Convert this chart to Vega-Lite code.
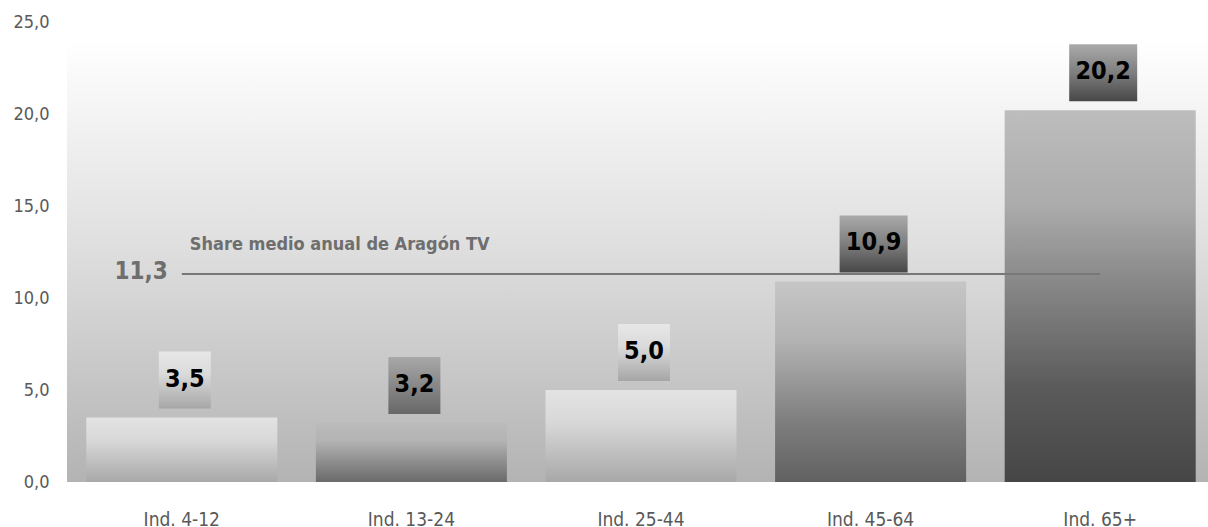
{
  "$schema": "https://vega.github.io/schema/vega-lite/v6.json",
  "width": 1148,
  "height": 460,
  "autosize": {"type": "none"},
  "padding": {"left": 67, "top": 22, "right": 0, "bottom": 45},
  "background": "white",
  "config": {
    "view": {"stroke": null},
    "font": "DejaVu Sans Condensed",
    "locale": {"number": {"decimal": ",", "thousands": ".", "grouping": [3], "currency": ["", " €"]}}
  },
  "datasets": {
    "share": [
      {"group": "Ind. 4-12", "value": 3.5},
      {"group": "Ind. 13-24", "value": 3.2},
      {"group": "Ind. 25-44", "value": 5.0},
      {"group": "Ind. 45-64", "value": 10.9},
      {"group": "Ind. 65+", "value": 20.2}
    ],
    "media": [
      {"value": 11.3, "label": "Share medio anual de Aragón TV"}
    ]
  },
  "layer": [
    {
      "data": {"values": [{}]},
      "mark": {"type": "rect", "fill": {"gradient": "linear", "x1": 0, "y1": 0, "x2": 0, "y2": 1, "stops": [{"offset": 0, "color": "#ffffff"}, {"offset": 0.45, "color": "#e0e0e0"}, {"offset": 1, "color": "#b3b3b3"}]}},
      "encoding": {
        "x": {"value": 0},
        "x2": {"value": "width"},
        "y": {
          "datum": 0, "type": "quantitative",
          "scale": {"domain": [0, 25], "nice": false, "zero": true},
          "axis": {"title": null, "domain": false, "ticks": false, "grid": false, "values": [0, 5, 10, 15, 20, 25], "format": ".1f", "labelPadding": 18, "labelFontSize": 18, "labelColor": "#595959", "labelFont": "DejaVu Sans Condensed"}
        },
        "y2": {"datum": 24}
      }
    },
    {
      "data": {"name": "share"},
      "mark": {"type": "bar"},
      "encoding": {
        "x": {
          "field": "group", "type": "nominal",
          "scale": {"domain": ["Ind. 4-12", "Ind. 13-24", "Ind. 25-44", "Ind. 45-64", "Ind. 65+"], "paddingInner": 0.168, "paddingOuter": 0.084},
          "axis": {"title": null, "domain": false, "ticks": false, "labelAngle": 0, "labelPadding": 28, "labelFontSize": 19, "labelColor": "#595959", "labelFont": "DejaVu Sans Condensed"}
        },
        "y": {
          "field": "value", "type": "quantitative",
          "axis": {"title": null, "domain": false, "ticks": false, "grid": false, "values": [0, 5, 10, 15, 20, 25], "format": ".1f", "labelPadding": 18, "labelFontSize": 18, "labelColor": "#595959", "labelFont": "DejaVu Sans Condensed"}
        },
        "fill": {
          "condition": [
            {"test": "datum.group === 'Ind. 13-24'", "value": {"gradient": "linear", "x1": 0, "y1": 0, "x2": 0, "y2": 1, "stops": [{"offset": 0, "color": "#bbbbbb"}, {"offset": 0.3, "color": "#b3b3b3"}, {"offset": 1, "color": "#6a6a6a"}]}},
            {"test": "datum.group === 'Ind. 45-64'", "value": {"gradient": "linear", "x1": 0, "y1": 0, "x2": 0, "y2": 1, "stops": [{"offset": 0, "color": "#c6c6c6"}, {"offset": 0.3, "color": "#b2b2b2"}, {"offset": 0.7, "color": "#7e7e7e"}, {"offset": 1, "color": "#616161"}]}},
            {"test": "datum.group === 'Ind. 65+'", "value": {"gradient": "linear", "x1": 0, "y1": 0, "x2": 0, "y2": 1, "stops": [{"offset": 0, "color": "#bdbdbd"}, {"offset": 0.25, "color": "#acacac"}, {"offset": 0.45, "color": "#8a8a8a"}, {"offset": 0.75, "color": "#5a5a5a"}, {"offset": 1, "color": "#464646"}]}}
          ],
          "value": {"gradient": "linear", "x1": 0, "y1": 0, "x2": 0, "y2": 1, "stops": [{"offset": 0, "color": "#e3e3e3"}, {"offset": 0.35, "color": "#d8d8d8"}, {"offset": 1, "color": "#a8a8a8"}]}
        }
      }
    },
    {
      "data": {"name": "media"},
      "mark": {"type": "rule", "color": "#787878", "strokeWidth": 2},
      "encoding": {
        "x": {"datum": "Ind. 4-12", "type": "nominal", "bandPosition": 0.5},
        "x2": {"datum": "Ind. 65+"},
        "y": {"field": "value", "type": "quantitative"}
      }
    },
    {
      "data": {"name": "share"},
      "mark": {"type": "bar", "yOffset": -9, "y2Offset": -66, "xOffset": 3},
      "encoding": {
        "x": {"field": "group", "type": "nominal"},
        "y": {"field": "value", "type": "quantitative"},
        "y2": {"field": "value"},
        "size": {"condition": {"test": "datum.value >= 10", "value": 68}, "value": 52},
        "fill": {
          "condition": [
            {"test": "datum.group === 'Ind. 4-12' || datum.group === 'Ind. 25-44'", "value": {"gradient": "linear", "x1": 0, "y1": 0, "x2": 0, "y2": 1, "stops": [{"offset": 0, "color": "#e7e7e7"}, {"offset": 0.4, "color": "#dadada"}, {"offset": 1, "color": "#a6a6a6"}]}},
            {"test": "datum.group === 'Ind. 13-24'", "value": {"gradient": "linear", "x1": 0, "y1": 0, "x2": 0, "y2": 1, "stops": [{"offset": 0, "color": "#a8a8a8"}, {"offset": 1, "color": "#676767"}]}}
          ],
          "value": {"gradient": "linear", "x1": 0, "y1": 0, "x2": 0, "y2": 1, "stops": [{"offset": 0, "color": "#aaaaaa"}, {"offset": 0.5, "color": "#7e7e7e"}, {"offset": 1, "color": "#474747"}]}
        }
      }
    },
    {
      "data": {"name": "share"},
      "mark": {"type": "text", "baseline": "middle", "align": "center", "dx": 3, "dy": -39, "fontSize": 25, "fontWeight": "bold", "color": "#000000", "font": "DejaVu Sans Condensed"},
      "encoding": {
        "x": {"field": "group", "type": "nominal"},
        "y": {"field": "value", "type": "quantitative"},
        "text": {"field": "value", "type": "quantitative", "format": ".1f"}
      }
    },
    {
      "data": {"name": "media"},
      "mark": {"type": "text", "baseline": "middle", "align": "right", "dx": -14, "dy": -2, "fontSize": 24, "fontWeight": "bold", "color": "#6e6e6e", "font": "DejaVu Sans Condensed"},
      "encoding": {
        "x": {"datum": "Ind. 4-12", "type": "nominal"},
        "y": {"field": "value", "type": "quantitative"},
        "text": {"field": "value", "type": "quantitative", "format": ".1f"}
      }
    },
    {
      "data": {"name": "media"},
      "mark": {"type": "text", "baseline": "middle", "align": "left", "dx": 8, "dy": -29, "fontSize": 18, "fontWeight": "bold", "color": "#6e6e6e", "font": "DejaVu Sans Condensed"},
      "encoding": {
        "x": {"datum": "Ind. 4-12", "type": "nominal"},
        "y": {"field": "value", "type": "quantitative"},
        "text": {"field": "label"}
      }
    }
  ]
}
